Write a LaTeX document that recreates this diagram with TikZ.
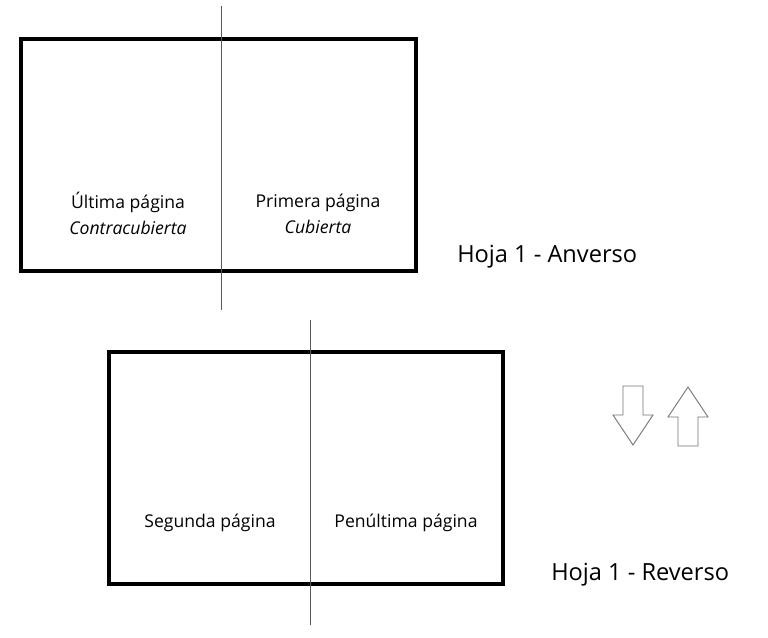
\documentclass[tikz,border=0pt]{standalone}
\usepackage{fontspec}
\setmainfont{Open Sans}
\usepackage{tikz}

\begin{document}
\begin{tikzpicture}[x=0.75pt, y=-0.75pt,
  hoja/.style={draw=black, line width=2.6pt},
  pliegue/.style={draw=black!65, line width=0.6pt},
  flecha/.style={draw=black!55, line width=0.7pt, fill=white},
  pagina/.style={font=\fontsize{13.2}{19.5}\selectfont, align=center, inner sep=0pt},
  rotulo/.style={font=\fontsize{17.7}{21}\selectfont, anchor=west, inner sep=0pt}]
\useasboundingbox (0,0) rectangle (768,637);
\coordinate (atl) at (21,39);
\coordinate (abr) at (416,271);
\coordinate (rtl) at (109,352);
\coordinate (rbr) at (503,584);
% Anverso
 \draw[hoja] (atl) rectangle (abr);
 \draw[pliegue] (221,6) -- (221,310);
 \node[pagina] (ultima) at (128,213) {Última página\\\textit{Contracubierta}};
 \node[pagina] (primera) at (318,214) {Primera página\\\textit{Cubierta}};
 \node[rotulo] (anverso) at (457,257) {Hoja 1 - Anverso};
% Reverso
 \draw[hoja] (rtl) rectangle (rbr);
 \draw[pliegue] (310,320) -- (310,625);
 \node[pagina] (segunda) at (210,523) {Segunda página};
 \node[pagina] (penultima) at (406,523) {Penúltima página};
 \node[rotulo] (reverso) at (551,575) {Hoja 1 - Reverso};
% flechas
 \draw[flecha] (623,386) -- (643,386) -- (643,415) -- (653,415) -- (633,445) -- (613,415) -- (623,415) -- cycle;
 \draw[flecha] (678,446) -- (698,446) -- (698,417) -- (708,417) -- (688,387) -- (668,417) -- (678,417) -- cycle;
\end{tikzpicture}
\end{document}
